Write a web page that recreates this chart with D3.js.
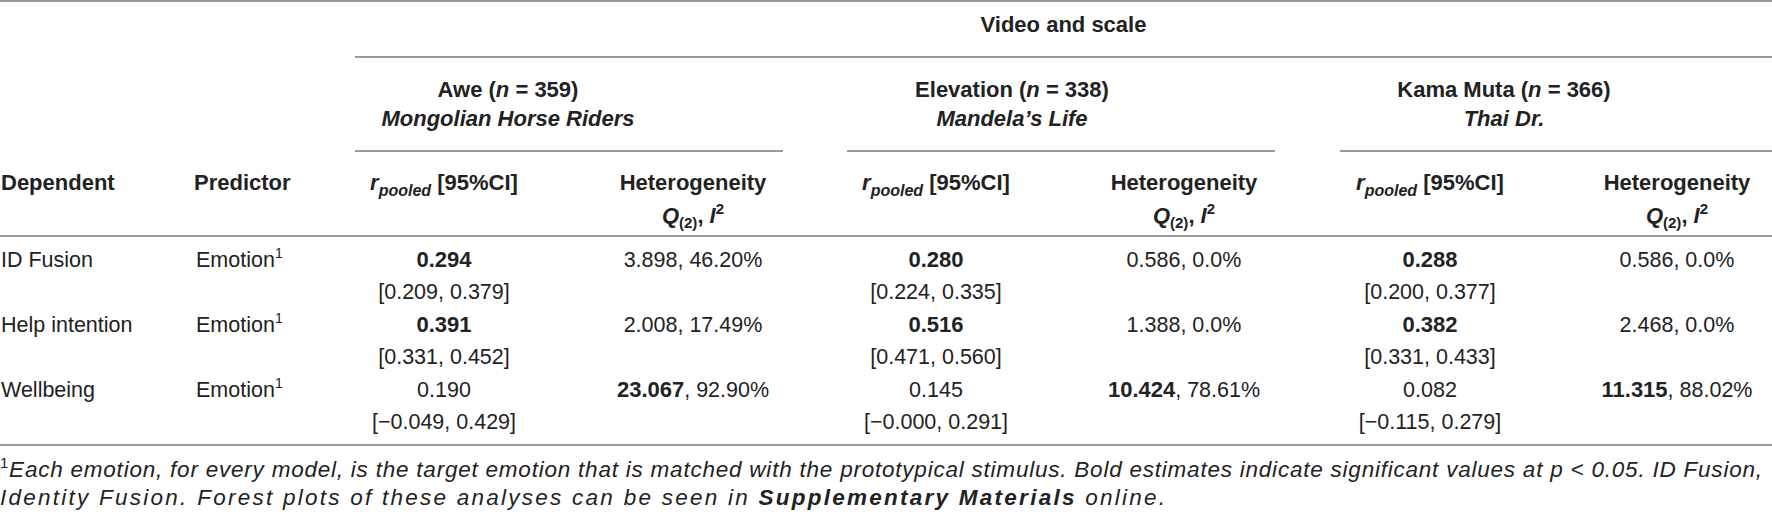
<!DOCTYPE html>
<html>
<head>
<meta charset="utf-8">
<script src="https://cdn.jsdelivr.net/npm/d3@7"></script>
<style>
  body { margin: 0; background: #fff; }
  text { font-family: "Liberation Sans", Arial, sans-serif; fill: #222; }
</style>
</head>
<body>
<div id="chart"></div>
<script>
// table content
const dependents = ["ID Fusion", "Help intention", "Wellbeing"];
const predictors = ["Emotion", "Emotion", "Emotion"];
const emotions = ["Awe", "Elevation", "Kama Muta"];
const sampleSizes = [359, 338, 366];
const videos = ["Mongolian Horse Riders", "Mandela\u2019s Life", "Thai Dr."];

// rows = dependents, columns = emotions
const rPooled = [[0.294, 0.280, 0.288], [0.391, 0.516, 0.382], [0.190, 0.145, 0.082]];
const ciLow = [[0.209, 0.224, 0.200], [0.331, 0.471, 0.331], [-0.049, -0, -0.115]];
const ciHigh = [[0.379, 0.335, 0.377], [0.452, 0.560, 0.433], [0.429, 0.291, 0.279]];
const qStat = [[3.898, 0.586, 0.586], [2.008, 1.388, 2.468], [23.067, 10.424, 11.315]];
const iSquared = [[46.20, 0, 0], [17.49, 0, 0], [92.90, 78.61, 88.02]];
const rSignificant = [[true, true, true], [true, true, true], [false, false, false]];
const qSignificant = [[false, false, false], [false, false, false], [true, true, true]];

const width = 1772, height = 512;
const lineColor = "#9b9b9b";
const bigSize = 22, regSize = 21.5;

const svg = d3.select("#chart").append("svg")
    .attr("width", width)
    .attr("height", height);

// column positions
const groupStart = d3.scaleOrdinal().domain(emotions).range([355, 847, 1340]);
const groupEnd = d3.scaleOrdinal().domain(emotions).range([783, 1275, 1772]);
const headerX = d3.scaleOrdinal().domain(emotions).range([508, 1012, 1504]);
const rX = d3.scaleOrdinal().domain(emotions).range([444, 936, 1430]);
const hetX = d3.scaleOrdinal().domain(emotions).range([693, 1184, 1677]);
const depX = 1, predX = 194;

// row positions (baselines)
const rowY = d3.scalePoint().domain(dependents).range([267, 397]);
const ciOffset = 32;

const fmt3 = d3.format(".3f");
const num = v => (v < 0 || Object.is(v, -0)) ? "\u2212" + fmt3(Math.abs(v)) : fmt3(v);
const pct = v => v === 0 ? "0.0%" : d3.format(".2f")(v) + "%";

function hline(x1, x2, y) {
    svg.append("line")
        .attr("x1", x1).attr("x2", x2)
        .attr("y1", y).attr("y2", y)
        .attr("stroke", lineColor)
        .attr("stroke-width", 2);
}

// rules
hline(0, width, 1);
hline(groupStart(emotions[0]), width, 57);
emotions.forEach(e => hline(groupStart(e), groupEnd(e), 151));
hline(0, width, 236);
hline(0, width, 445);

// spanner
svg.append("text")
    .attr("x", (groupStart(emotions[0]) + width) / 2)
    .attr("y", 32)
    .attr("text-anchor", "middle")
    .attr("font-size", bigSize)
    .attr("font-weight", "bold")
    .text("Video and scale");

// group headers
emotions.forEach((e, i) => {
    const t = svg.append("text")
        .attr("x", headerX(e))
        .attr("y", 97)
        .attr("text-anchor", "middle")
        .attr("font-size", bigSize)
        .attr("font-weight", "bold");
    t.append("tspan").text(e + " (");
    t.append("tspan").attr("font-style", "italic").text("n");
    t.append("tspan").text(" = " + sampleSizes[i] + ")");

    svg.append("text")
        .attr("x", headerX(e))
        .attr("y", 126)
        .attr("text-anchor", "middle")
        .attr("font-size", bigSize)
        .attr("font-weight", "bold")
        .attr("font-style", "italic")
        .text(videos[i]);
});

// column headers
svg.append("text")
    .attr("x", depX).attr("y", 190)
    .attr("font-size", bigSize).attr("font-weight", "bold")
    .text("Dependent");
svg.append("text")
    .attr("x", predX).attr("y", 190)
    .attr("font-size", bigSize).attr("font-weight", "bold")
    .text("Predictor");

emotions.forEach(e => {
    const r = svg.append("text")
        .attr("x", rX(e)).attr("y", 190)
        .attr("text-anchor", "middle")
        .attr("font-size", bigSize)
        .attr("font-weight", "bold");
    r.append("tspan").attr("font-style", "italic").text("r");
    r.append("tspan").attr("font-style", "italic").attr("font-size", 16).attr("dy", 6).text("pooled");
    r.append("tspan").attr("dy", -6).text("\u00a0[95%CI]");

    svg.append("text")
        .attr("x", hetX(e)).attr("y", 190)
        .attr("text-anchor", "middle")
        .attr("font-size", bigSize)
        .attr("font-weight", "bold")
        .text("Heterogeneity");

    const q = svg.append("text")
        .attr("x", hetX(e)).attr("y", 223)
        .attr("text-anchor", "middle")
        .attr("font-size", bigSize)
        .attr("font-weight", "bold");
    q.append("tspan").attr("font-style", "italic").text("Q");
    q.append("tspan").attr("font-size", 15).attr("dy", 5).text("(2)");
    q.append("tspan").attr("dy", -5).text(", ");
    q.append("tspan").attr("font-style", "italic").text("I");
    q.append("tspan").attr("font-size", 15).attr("dy", -9).text("2");
});

// body rows
dependents.forEach((d, i) => {
    const y = rowY(d);
    svg.append("text")
        .attr("x", depX).attr("y", y)
        .attr("font-size", regSize)
        .text(d);

    const p = svg.append("text")
        .attr("x", predX + 2).attr("y", y)
        .attr("font-size", regSize);
    p.append("tspan").text(predictors[i]);
    p.append("tspan").attr("font-size", 14).attr("dy", -9).text("1");

    emotions.forEach((e, j) => {
        svg.append("text")
            .attr("x", rX(e)).attr("y", y)
            .attr("text-anchor", "middle")
            .attr("font-size", rSignificant[i][j] ? bigSize : regSize)
            .attr("font-weight", rSignificant[i][j] ? "bold" : "normal")
            .text(num(rPooled[i][j]));

        svg.append("text")
            .attr("x", rX(e)).attr("y", y + ciOffset)
            .attr("text-anchor", "middle")
            .attr("font-size", regSize)
            .text("[" + num(ciLow[i][j]) + ", " + num(ciHigh[i][j]) + "]");

        const h = svg.append("text")
            .attr("x", hetX(e)).attr("y", y)
            .attr("text-anchor", "middle")
            .attr("font-size", regSize);
        h.append("tspan")
            .attr("font-weight", qSignificant[i][j] ? "bold" : "normal")
            .attr("font-size", qSignificant[i][j] ? bigSize : regSize)
            .text(num(qStat[i][j]));
        h.append("tspan").text(", " + pct(iSquared[i][j]));
    });
});

// footnote (the original face runs wider, so each line is spaced out to its measured length)
const noteSize = 22.5;
const f1 = svg.append("text")
    .attr("x", 0).attr("y", 477)
    .attr("font-size", noteSize)
    .attr("textLength", 1762)
    .attr("lengthAdjust", "spacing");
f1.append("tspan").attr("font-size", 15).attr("dy", -9).text("1");
f1.append("tspan").attr("dy", 9).attr("font-style", "italic")
    .text("Each emotion, for every model, is the target emotion that is matched with the prototypical stimulus. Bold estimates indicate significant values at p < 0.05. ID Fusion,");

const f2 = svg.append("text")
    .attr("x", 0).attr("y", 505)
    .attr("font-size", noteSize)
    .attr("font-style", "italic")
    .attr("textLength", 1165)
    .attr("lengthAdjust", "spacing");
f2.append("tspan").text("Identity Fusion. Forest plots of these analyses can be seen in ");
f2.append("tspan").attr("font-weight", "bold").text("Supplementary Materials");
f2.append("tspan").text(" online.");
</script>
</body>
</html>
